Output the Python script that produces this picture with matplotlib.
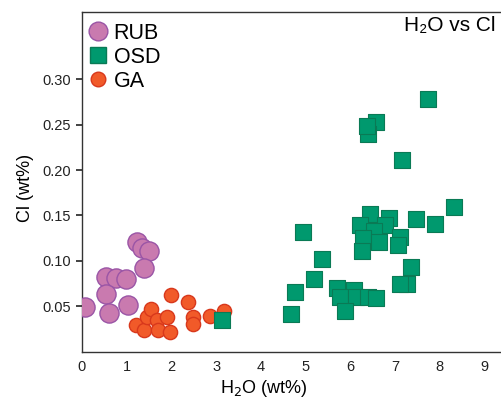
import matplotlib
matplotlib.use("Agg")
import matplotlib.pyplot as plt
from matplotlib.lines import Line2D

plt.rcParams['font.family'] = ['Liberation Sans', 'DejaVu Sans']

rub_h2o = [0.07, 0.54, 0.76, 0.98, 0.54, 0.60, 1.03, 1.23, 1.34, 1.50, 1.39]
rub_cl = [0.049, 0.082, 0.081, 0.080, 0.063, 0.043, 0.051, 0.121, 0.114, 0.111, 0.092]

ga_h2o = [1.21, 1.39, 1.45, 1.54, 1.67, 1.69, 1.90, 1.97, 1.99, 2.38, 2.49, 2.49, 2.86, 3.18]
ga_cl = [0.029, 0.024, 0.038, 0.047, 0.035, 0.024, 0.038, 0.022, 0.062, 0.055, 0.038, 0.030, 0.039, 0.045]

osd_h2o = [7.74, 6.58, 6.41, 6.38, 7.17, 8.33, 7.48, 7.89, 6.45, 6.86, 6.21, 6.79, 6.53,
           7.12, 6.29, 6.64, 7.08, 6.27, 4.95, 5.36, 7.36, 5.20, 4.76, 7.28, 7.11, 5.71,
           6.09, 5.78, 6.12, 6.41, 6.58, 5.89, 4.68, 3.13]
osd_cl = [0.278, 0.253, 0.240, 0.248, 0.211, 0.159, 0.146, 0.141, 0.152, 0.147, 0.139, 0.139, 0.133,
          0.126, 0.125, 0.121, 0.117, 0.111, 0.132, 0.102, 0.093, 0.080, 0.066, 0.075, 0.075, 0.070,
          0.068, 0.060, 0.060, 0.060, 0.059, 0.045, 0.042, 0.035]

x_ticks = [0, 1, 2, 3, 4, 5, 6, 7, 8, 9]
y_ticks = [0.05, 0.10, 0.15, 0.20, 0.25, 0.30]

fig = plt.figure(figsize=(5.01, 3.99), dpi=100)
ax = fig.add_axes([82/501, 47.3/399, 1 - 82/501, 339.7/399])

ax.scatter(rub_h2o, rub_cl, s=190, marker='o', facecolor='#C97AAF', edgecolor='#9A55A6', linewidth=1.0, zorder=3)
ax.scatter(ga_h2o, ga_cl, s=105, marker='o', facecolor='#F15A29', edgecolor='#D8381C', linewidth=1.0, zorder=4)
ax.scatter(osd_h2o, osd_cl, s=120, marker='s', facecolor='#00996E', edgecolor='#0A7A55', linewidth=0.8, zorder=5)

ax.set_xlim(0, 9.375)
ax.set_ylim(0, 0.374)
ax.set_xticks(x_ticks)
ax.set_yticks(y_ticks)
ax.set_yticklabels([f"{v:.2f}" for v in y_ticks])
ax.tick_params(axis='x', length=0, pad=6, labelsize=10.5, colors='#222222')
ax.tick_params(axis='y', length=4, width=1.2, pad=4, labelsize=10.5, colors='#222222')
ax.yaxis.get_major_ticks()[1].tick1line.set_color('#9A55A6')

ax.spines['right'].set_visible(False)
for side in ['left', 'bottom', 'top']:
    ax.spines[side].set_color('#333333')
    ax.spines[side].set_linewidth(1.0)

ax.set_xlabel('H$_2$O (wt%)', fontsize=13)
ax.xaxis.set_label_coords(0.434, -0.107)
ax.xaxis.label.set_verticalalignment('center')
ax.set_ylabel('Cl (wt%)', fontsize=13)
ax.yaxis.set_label_coords(-0.136, 0.482)
ax.yaxis.label.set_verticalalignment('center')

ax.text(0.9857, 0.960, 'H₂O vs Cl', transform=ax.transAxes, ha='right', va='center', fontsize=15)

handles = [
    Line2D([], [], marker='o', linestyle='none', markersize=13.5, markerfacecolor='#C97AAF', markeredgecolor='#9A55A6'),
    Line2D([], [], marker='s', linestyle='none', markersize=11, markerfacecolor='#00996E', markeredgecolor='#0A7A55'),
    Line2D([], [], marker='o', linestyle='none', markersize=10.5, markerfacecolor='#F15A29', markeredgecolor='#D8381C'),
]
ax.legend(handles, ['RUB', 'OSD', 'GA'], loc='upper left', bbox_to_anchor=(-0.03, 1.012), frameon=False,
          fontsize=15.5, handletextpad=0.05, labelspacing=0.14, borderaxespad=0.3, handlelength=1.3)

fig.savefig('out.png', dpi=100)
